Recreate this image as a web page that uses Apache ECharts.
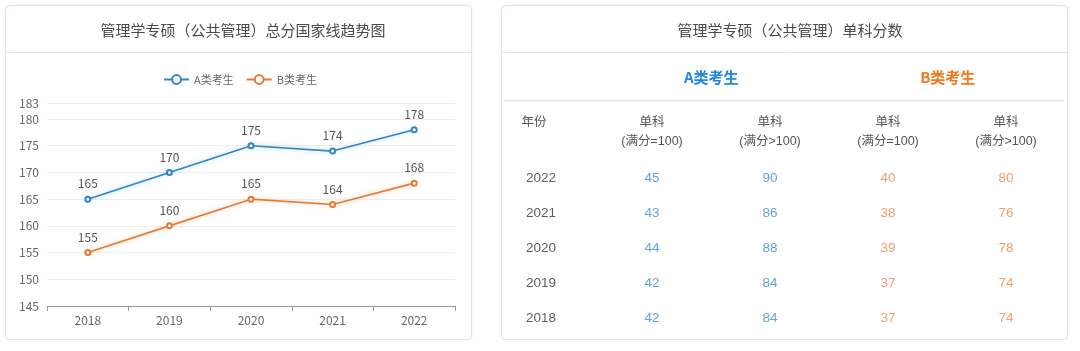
<!DOCTYPE html>
<html><head><meta charset="utf-8">
<script src="https://cdn.jsdelivr.net/npm/echarts@6/dist/echarts.min.js"></script>
<style>html,body{margin:0;padding:0;background:#fff;}#c{width:1080px;height:351px;}</style>
</head><body><div id="c"></div>
<script>
// ---- data ----
const years = ['2018','2019','2020','2021','2022'];
const totalA = [165,170,175,174,178];
const totalB = [155,160,165,164,168];
const tableYears = ['2022','2021','2020','2019','2018'];
const aEq = [45,43,44,42,42];
const aGt = [90,86,88,84,84];
const bEq = [40,38,39,37,37];
const bGt = [80,76,78,74,74];
const colHeaders = ['年份','单科\n(满分=100)','单科\n(满分>100)','单科\n(满分=100)','单科\n(满分>100)'];
const groupHeaders = ['A类考生','B类考生'];
const leftTitle = '管理学专硕（公共管理）总分国家线趋势图';
const rightTitle = '管理学专硕（公共管理）单科分数';

const BLUE = '#2e86c9', ORANGE = '#e67a32';
const TBLUE = '#3a8dcb', TORANGE = '#e6884a';
const FONT = '"Noto Sans CJK SC","Microsoft YaHei",sans-serif';
const TFONT = '"Liberation Sans","Noto Sans CJK SC",sans-serif';

const chart = echarts.init(document.getElementById('c'));

function cell(col, arr) {
  return arr.map((v, i) => [col, i, v]);
}

const option = {
  textStyle: {fontFamily: FONT},
  animation: false,
  graphic: [
    {type:'rect', shape:{x:5.5,y:5.5,width:466,height:334,r:4}, style:{fill:'#fff',stroke:'#e3e3e3',lineWidth:1,shadowBlur:4,shadowColor:'rgba(0,0,0,0.06)'}, z:-10},
    {type:'rect', shape:{x:501.5,y:5.5,width:566,height:334,r:4}, style:{fill:'#fff',stroke:'#e3e3e3',lineWidth:1,shadowBlur:4,shadowColor:'rgba(0,0,0,0.06)'}, z:-10},
    {type:'line', shape:{x1:6,y1:52.5,x2:471,y2:52.5}, style:{stroke:'#e6e6e6',lineWidth:1}, z:-5},
    {type:'line', shape:{x1:502,y1:52.5,x2:1067,y2:52.5}, style:{stroke:'#e6e6e6',lineWidth:1}, z:-5},
    {type:'line', shape:{x1:504,y1:100.5,x2:1064,y2:100.5}, style:{stroke:'#eeeeee',lineWidth:2}, z:-5}
  ],
  title: [
    {text: leftTitle, left: 238, top: 18, textAlign: 'center', textStyle:{fontSize:15,fontWeight:'normal',color:'#4a4a4a',fontFamily:FONT}},
    {text: rightTitle, left: 785, top: 18, textAlign: 'center', textStyle:{fontSize:15,fontWeight:'normal',color:'#4a4a4a',fontFamily:FONT}}
  ],
  legend: {
    top: 69, left: 158, itemWidth: 25, itemHeight: 11, itemGap: 12,
    data: ['A类考生','B类考生'],
    textStyle: {fontSize: 11, color: '#666', fontFamily: FONT}
  },
  grid: [
    {left: 47, top: 103, width: 408, height: 203},
    {left: 475, top: 160.5, width: 590, height: 175},
    {left: 593, top: 89, width: 473, height: 1}
  ],
  xAxis: [
    {gridIndex:0, type:'category', data: years, boundaryGap:true,
      axisLine:{lineStyle:{color:'#999'}}, axisTick:{show:true,lineStyle:{color:'#999'}},
      axisLabel:{color:'#666', fontSize:12, margin:8}},
    {gridIndex:1, type:'category', data: colHeaders, position:'top', boundaryGap:true,
      axisLine:{show:false}, axisTick:{show:false}, splitLine:{show:false},
      axisLabel:{color:'#555', fontSize:12.5, lineHeight:19, margin:9, interval:0, fontFamily: TFONT,
        formatter: v => v.indexOf('\n') < 0 ? v + '\n ' : v}},
    {gridIndex:2, type:'category', data: groupHeaders, position:'top', boundaryGap:true,
      axisLine:{show:false}, axisTick:{show:false},
      axisLabel:{fontSize:15, fontWeight:'bold', margin:4, interval:0,
        color: (v, i) => i === 0 ? '#1f87dd' : '#ee7a22'}}
  ],
  yAxis: [
    {gridIndex:0, type:'value', min:145, max:183, interval:5,
      axisLine:{show:false}, axisTick:{show:false},
      splitLine:{lineStyle:{color:'#eeeeee'}},
      axisLabel:{color:'#666', fontSize:12, margin:8}},
    {gridIndex:1, type:'category', data: tableYears, inverse:true, boundaryGap:true,
      axisLine:{show:false}, axisTick:{show:false}, axisLabel:{show:false}, splitLine:{show:false}},
    {gridIndex:2, type:'value', show:false}
  ],
  series: [
    {name:'A类考生', type:'line', xAxisIndex:0, yAxisIndex:0, data: totalA,
      symbol:'emptyCircle', symbolSize:5, color: BLUE,
      lineStyle:{width:1.6, color: BLUE, shadowColor:'rgba(46,134,201,0.35)', shadowBlur:5},
      itemStyle:{color: BLUE, borderWidth:1.5},
      label:{show:true, position:'top', distance:6, color:'#555', fontSize:12}},
    {name:'B类考生', type:'line', xAxisIndex:0, yAxisIndex:0, data: totalB,
      symbol:'emptyCircle', symbolSize:5, color: ORANGE,
      lineStyle:{width:1.6, color: ORANGE, shadowColor:'rgba(230,122,50,0.35)', shadowBlur:5},
      itemStyle:{color: ORANGE, borderWidth:1.5},
      label:{show:true, position:'top', distance:6, color:'#555', fontSize:12}},
    {type:'scatter', xAxisIndex:1, yAxisIndex:1, symbolSize:1, itemStyle:{color:'rgba(0,0,0,0)'},
      data: tableYears.map((y, i) => [0, i, y]),
      label:{show:true, position:'inside', offset:[7,0], color:'#333', fontSize:13.5, fontFamily: TFONT, formatter: p => p.value[2]}},
    {type:'scatter', xAxisIndex:1, yAxisIndex:1, symbolSize:1, itemStyle:{color:'rgba(0,0,0,0)'},
      data: cell(1, aEq).concat(cell(2, aGt)),
      label:{show:true, position:'inside', color: TBLUE, fontSize:13.5, fontFamily: TFONT, formatter: p => p.value[2]}},
    {type:'scatter', xAxisIndex:1, yAxisIndex:1, symbolSize:1, itemStyle:{color:'rgba(0,0,0,0)'},
      data: cell(3, bEq).concat(cell(4, bGt)),
      label:{show:true, position:'inside', color: TORANGE, fontSize:13.5, fontFamily: TFONT, formatter: p => p.value[2]}}
  ]
};
chart.setOption(option);
</script></body></html>
